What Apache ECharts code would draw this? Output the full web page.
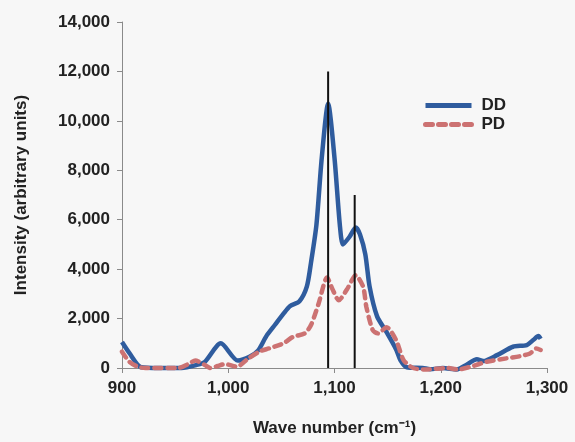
<!DOCTYPE html>
<html>
<head>
<meta charset="utf-8">
<script src="https://cdn.jsdelivr.net/npm/echarts@6/dist/echarts.min.js"></script>
<style>
html,body{margin:0;padding:0;background:#f7f7f7;}
#chart{width:575px;height:442px;}
</style>
</head>
<body>
<div id="chart"></div>
<script>
// Wave numbers (cm-1) and intensities for DD
var waveDD = [900, 907, 918, 935, 956, 970, 978, 993, 1009, 1020, 1028, 1036, 1044, 1052, 1058, 1067, 1074, 1078, 1083, 1088, 1094, 1100, 1105, 1108, 1114, 1120, 1124, 1129, 1133, 1140, 1149, 1158, 1162, 1168, 1183, 1190, 1202, 1215, 1224, 1234, 1240, 1253, 1268, 1281, 1287, 1292, 1294];
var intensityDD = [1050, 600, 30, 0, 0, 120, 250, 1000, 300, 450, 700, 1300, 1750, 2200, 2500, 2700, 3300, 4300, 5800, 8500, 10700, 8500, 5800, 5000, 5300, 5680, 5400, 4600, 3300, 2100, 1450, 750, 320, 30, 0, -50, 0, -60, 120, 350, 280, 520, 860, 930, 1130, 1290, 1180];

// Wave numbers and intensities for PD
var wavePD = [900, 907, 915, 922, 953, 962, 969, 978, 983, 990, 997, 1008, 1019, 1030, 1039, 1052, 1061, 1072, 1078, 1085, 1093, 1098, 1104, 1112, 1120, 1127, 1130, 1136, 1141, 1149, 1158, 1165, 1174, 1187, 1206, 1216, 1228, 1243, 1262, 1275, 1284, 1290, 1294];
var intensityPD = [660, 250, 50, 0, 0, 150, 300, 120, 0, 80, 160, 50, 390, 680, 800, 1000, 1260, 1400, 1750, 2600, 3660, 3200, 2740, 3200, 3750, 3280, 2470, 1530, 1400, 1650, 1130, 320, 0, -60, 0, -60, 50, 250, 390, 480, 590, 790, 730];

// Reference peak markers
var peakWave = [1094, 1119];
var peakHeight = [12000, 7000];

var seriesNames = ['DD', 'PD'];
var xTicks = [900, 1000, 1100, 1200, 1300];
var yTicks = [0, 2000, 4000, 6000, 8000, 10000, 12000, 14000];

function pair(xs, ys) { return xs.map(function (x, i) { return [x, ys[i]]; }); }
function fmt(v) { return Number(v).toLocaleString('en-US'); }

var FONT = 'Liberation Sans, Arial, sans-serif';
var chart = echarts.init(document.getElementById('chart'), null, {renderer: 'canvas'});

var series = [];
peakWave.forEach(function (w, i) {
  series.push({
    type: 'line', name: 'peak' + i, data: [[w, 0], [w, peakHeight[i]]],
    symbol: 'none', lineStyle: {color: '#111', width: 2}, z: 3, silent: true
  });
});
series.push({
  type: 'line', name: seriesNames[0], data: pair(waveDD, intensityDD),
  symbol: 'none', smooth: 0.25, clip: false,
  lineStyle: {color: '#2f5c9e', width: 4.5}, itemStyle: {color: '#2f5c9e'}, z: 2
});
series.push({
  type: 'line', name: seriesNames[1], data: pair(wavePD, intensityPD),
  symbol: 'none', smooth: 0.25, clip: false,
  lineStyle: {color: '#cc7272', width: 4.5, type: [7, 6], cap: 'round'}, itemStyle: {color: '#cc7272'}, z: 2
});

chart.setOption({
  backgroundColor: '#f7f7f7',
  animation: false,
  grid: {left: 122, right: 28, top: 22, bottom: 74},
  legend: {
    data: seriesNames, orient: 'vertical', left: 418, top: 92,
    itemWidth: 46, itemHeight: 14, itemGap: 2,
    itemStyle: {opacity: 0},
    lineStyle: {width: 5},
    textStyle: {fontFamily: FONT, fontWeight: 'bold', fontSize: 17, color: '#222', padding: [0, 0, 0, 5]}
  },
  xAxis: {
    type: 'value', min: xTicks[0], max: xTicks[xTicks.length - 1], interval: 100,
    name: 'Wave number (cm\u207B\u00B9)', nameLocation: 'middle', nameGap: 52,
    nameTextStyle: {fontFamily: FONT, fontWeight: 'bold', fontSize: 17, color: '#222'},
    axisLine: {lineStyle: {color: '#8a8a8a', width: 1}},
    axisTick: {show: true, length: 5, lineStyle: {color: '#8a8a8a'}},
    axisLabel: {fontFamily: FONT, fontWeight: 'bold', fontSize: 17, color: '#222', margin: 12, formatter: fmt},
    splitLine: {show: false}
  },
  yAxis: {
    type: 'value', min: yTicks[0], max: yTicks[yTicks.length - 1], interval: 2000,
    name: 'Intensity (arbitrary units)', nameLocation: 'middle', nameGap: 92,
    nameTextStyle: {fontFamily: FONT, fontWeight: 'bold', fontSize: 17, color: '#222'},
    axisLine: {show: true, lineStyle: {color: '#8a8a8a', width: 1}},
    axisTick: {show: true, length: 5, lineStyle: {color: '#8a8a8a'}},
    axisLabel: {fontFamily: FONT, fontWeight: 'bold', fontSize: 17, color: '#222', margin: 12, formatter: fmt},
    splitLine: {show: false}
  },
  series: series
});
</script>
</body>
</html>
